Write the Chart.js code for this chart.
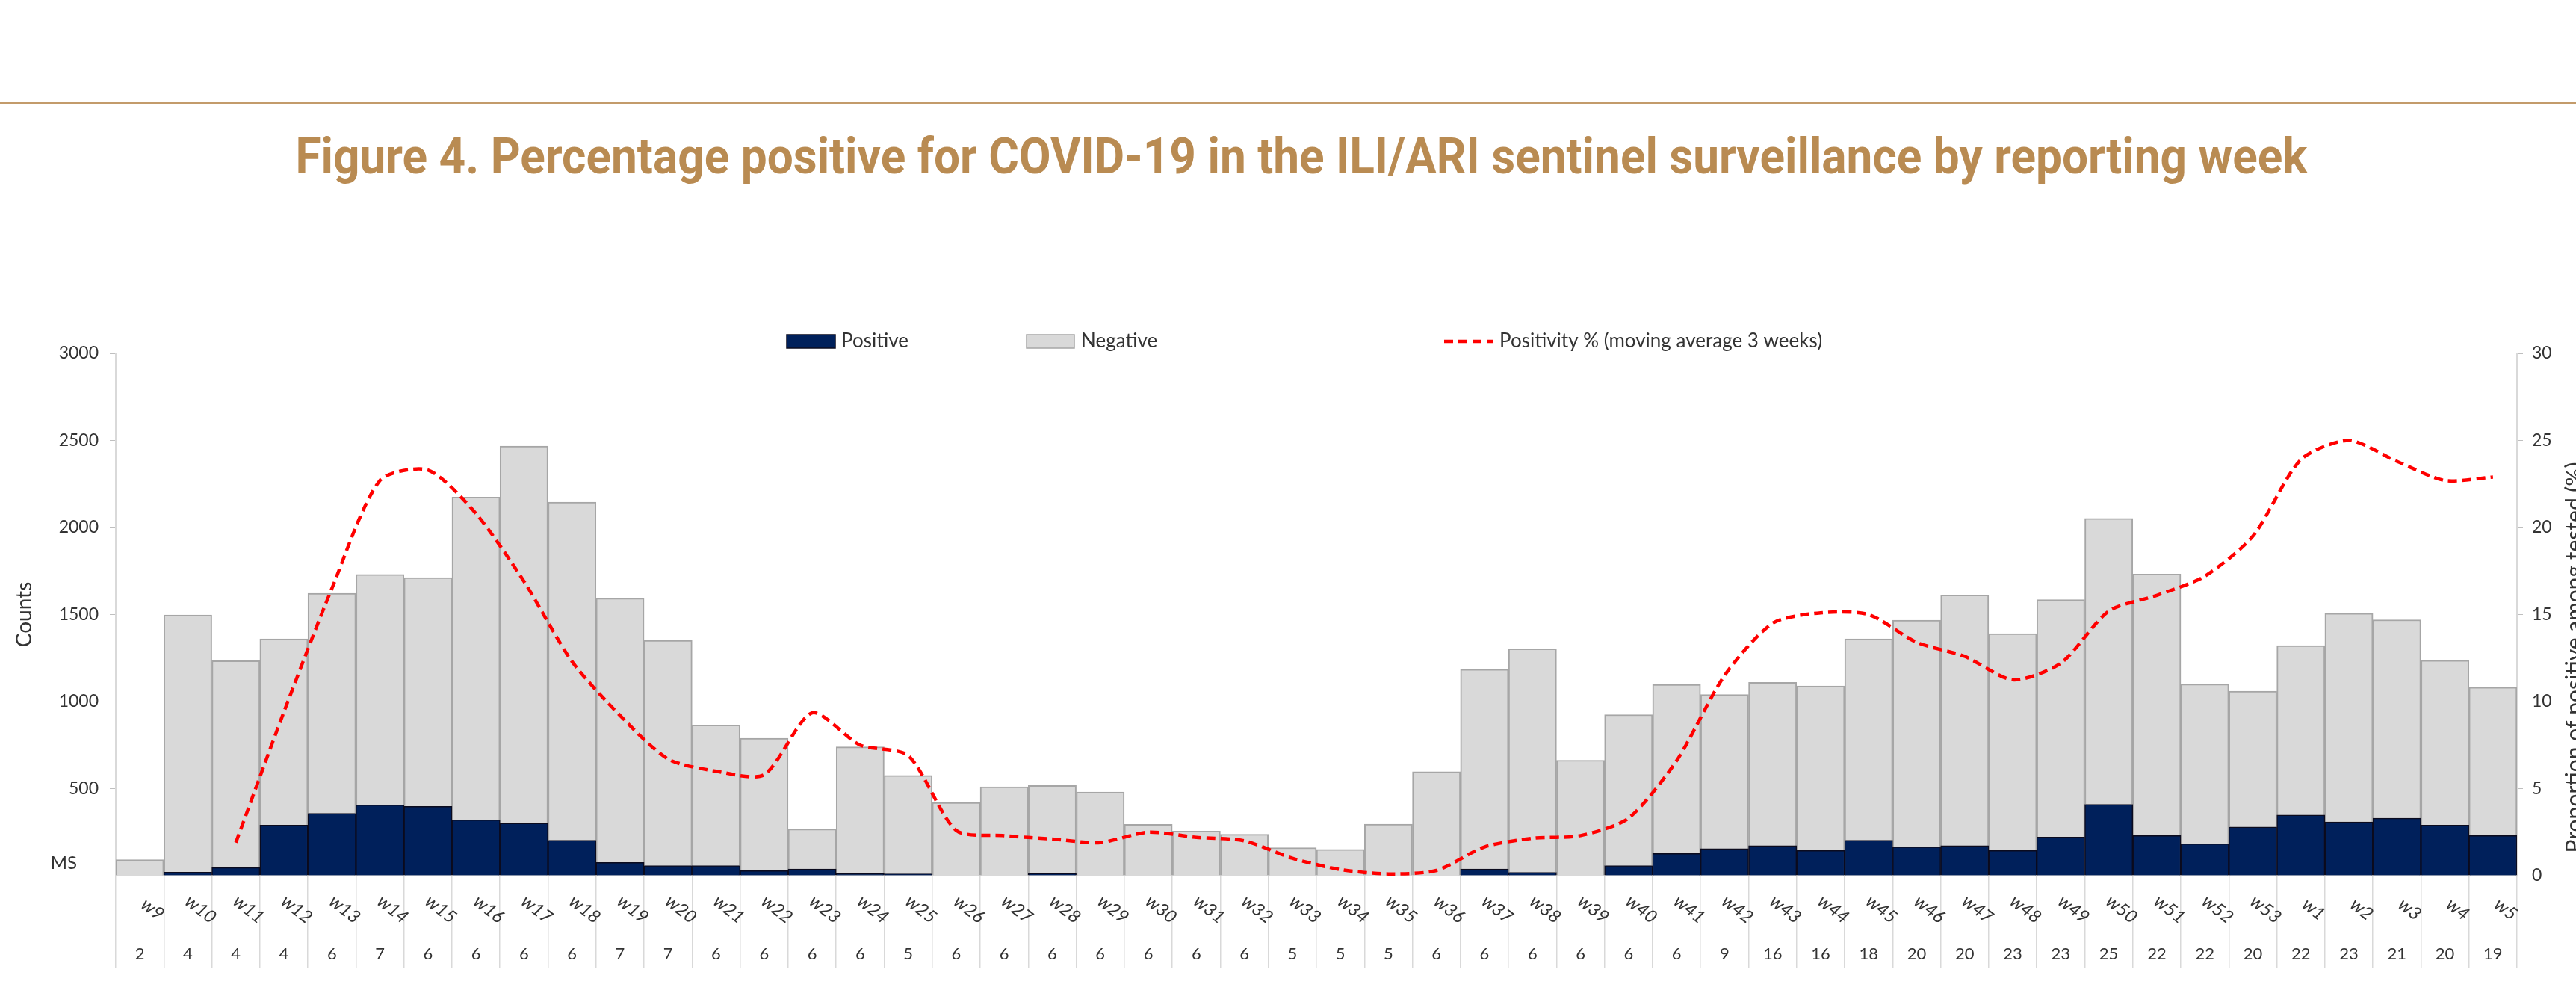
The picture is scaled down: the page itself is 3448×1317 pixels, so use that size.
<!DOCTYPE html>
<html>
<head>
<meta charset="utf-8">
<script src="https://cdn.jsdelivr.net/npm/chart.js@4.4.0/dist/chart.umd.min.js"></script>
<style>
  html, body { margin: 0; padding: 0; background: #fff; overflow: hidden; }
  #page { position: relative; width: 3448px; height: 1317px; }
  #rule { position: absolute; left: 0; top: 136px; width: 3448px; height: 3px; background: #c39b6b; }
  #title { position: absolute; left: 18px; top: 177px; width: 3448px; text-align: center;
           font: bold 66px Roboto, sans-serif; line-height: 66px; color: #b98b52;
           white-space: nowrap; transform-origin: 50% 50%; }
  #wrap { position: absolute; left: 0; top: 0; width: 3448px; height: 1317px; }
</style>
</head>
<body>
<div id="page">
  <div id="rule"></div>
  <div id="title"><span>Figure 4. Percentage positive for COVID-19 in the ILI/ARI sentinel surveillance by reporting week</span></div>
  <div id="wrap"><canvas id="chart"></canvas></div>
</div>
<script>
// squeeze the title to the condensed width of the original
const titleEl = document.getElementById('title');
const titleW = titleEl.querySelector('span').getBoundingClientRect().width;
titleEl.style.transform = 'scaleX(' + (2693 / titleW) + ')';

// --- data ---
const weeks = ['w9', 'w10', 'w11', 'w12', 'w13', 'w14', 'w15', 'w16', 'w17', 'w18',
  'w19', 'w20', 'w21', 'w22', 'w23', 'w24', 'w25', 'w26', 'w27', 'w28',
  'w29', 'w30', 'w31', 'w32', 'w33', 'w34', 'w35', 'w36', 'w37', 'w38',
  'w39', 'w40', 'w41', 'w42', 'w43', 'w44', 'w45', 'w46', 'w47', 'w48',
  'w49', 'w50', 'w51', 'w52', 'w53', 'w1', 'w2', 'w3', 'w4', 'w5'];

const positive = [0, 20, 47, 290, 358, 406, 398, 320, 301, 204,
  76, 58, 58, 29, 38, 11, 10, 0, 0, 12,
  0, 0, 0, 0, 0, 0, 0, 0, 38, 19,
  0, 58, 127, 155, 172, 144, 204, 165, 172, 144,
  222, 410, 230, 183, 280, 348, 309, 330, 290, 230];

const negative = [92, 1477, 1188, 1070, 1264, 1324, 1314, 1855, 2167, 1942,
  1518, 1294, 808, 760, 230, 729, 566, 420, 510, 506,
  480, 295, 256, 238, 161, 151, 296, 597, 1147, 1284,
  663, 867, 971, 885, 938, 946, 1156, 1303, 1440, 1246,
  1363, 1642, 1502, 917, 780, 974, 1198, 1140, 947, 852];

const positivity = [null, null, 1.9, 9.4, 16.5, 22.7, 23.3, 20.8, 16.9, 12.3,
  9.2, 6.7, 6.0, 5.8, 9.35, 7.5, 6.9, 2.6, 2.3, 2.1,
  1.9, 2.5, 2.2, 2.0, 1.0, 0.35, 0.1, 0.3, 1.65, 2.15,
  2.3, 3.3, 6.6, 11.5, 14.5, 15.1, 15.0, 13.4, 12.6, 11.25,
  12.2, 15.2, 16.1, 17.2, 19.5, 23.9, 25.0, 23.8, 22.7, 22.9];

// number of member states reporting each week
const msCounts = [2, 4, 4, 4, 6, 7, 6, 6, 6, 6,
  7, 7, 6, 6, 6, 6, 5, 6, 6, 6,
  6, 6, 6, 6, 5, 5, 5, 6, 6, 6,
  6, 6, 6, 9, 16, 16, 18, 20, 20, 23,
  23, 25, 22, 22, 20, 22, 23, 21, 20, 19];

const NAVY = '#00205b';
const GREY = '#d9d9d9';
const GREY_EDGE = '#a6a6a6';
const RED = '#ff0000';
const TEXT = '#333333';
const FONT = 'Lato, "Open Sans", sans-serif';

// week labels, MS row, legend and right-hand title
const extras = {
  id: 'extras',
  afterDraw(chart) {
    const { ctx, chartArea, scales: { x } } = chart;
    ctx.save();
    ctx.fillStyle = TEXT;
    ctx.textBaseline = 'middle';

    // slanted week labels
    ctx.font = 'italic 24px ' + FONT;
    ctx.textAlign = 'center';
    weeks.forEach((w, i) => {
      ctx.save();
      ctx.translate(x.getPixelForValue(i) + 17, chartArea.bottom + 45);
      ctx.rotate(38 * Math.PI / 180);
      ctx.fillText(w, 0, 0);
      ctx.restore();
    });

    // MS counts row
    ctx.font = '22px ' + FONT;
    msCounts.forEach((n, i) => {
      ctx.fillText(String(n), x.getPixelForValue(i), chartArea.bottom + 105);
    });
    ctx.font = '24px ' + FONT;
    ctx.textAlign = 'right';
    ctx.fillText('MS', chartArea.left - 52, chartArea.bottom - 17);

    // legend
    const ly = 457;
    ctx.font = '26px ' + FONT;
    ctx.textAlign = 'left';
    ctx.fillStyle = NAVY;
    ctx.fillRect(1053, ly - 9, 65, 18);
    ctx.strokeStyle = '#0b0b1e';
    ctx.lineWidth = 1.5;
    ctx.strokeRect(1053, ly - 9, 65, 18);
    ctx.fillStyle = TEXT;
    ctx.fillText('Positive', 1126, ly);

    ctx.fillStyle = GREY;
    ctx.fillRect(1374, ly - 9, 64, 18);
    ctx.strokeStyle = GREY_EDGE;
    ctx.strokeRect(1374, ly - 9, 64, 18);
    ctx.fillStyle = TEXT;
    ctx.fillText('Negative', 1447, ly);

    ctx.strokeStyle = RED;
    ctx.lineWidth = 4.5;
    ctx.setLineDash([12, 7]);
    ctx.beginPath();
    ctx.moveTo(1933, ly);
    ctx.lineTo(1999, ly);
    ctx.stroke();
    ctx.setLineDash([]);
    ctx.fillText('Positivity % (moving average 3 weeks)', 2007, ly);

    // right axis title, reading upwards and cut by the page edge
    ctx.save();
    ctx.translate(3456, 880);
    ctx.rotate(-Math.PI / 2);
    ctx.font = '30px ' + FONT;
    ctx.textAlign = 'center';
    ctx.textBaseline = 'alphabetic';
    ctx.fillText('Proportion of positive among tested (%)', 0, 0);
    ctx.restore();

    ctx.restore();
  }
};

new Chart(document.getElementById('chart'), {
  data: {
    labels: weeks,
    datasets: [
      {
        type: 'line',
        label: 'Positivity % (moving average 3 weeks)',
        data: positivity,
        yAxisID: 'y1',
        borderColor: RED,
        borderWidth: 4.5,
        borderDash: [12, 7],
        pointRadius: 0,
        tension: 0.25,
        order: 0
      },
      {
        type: 'bar',
        label: 'Positive',
        data: positive,
        yAxisID: 'y',
        backgroundColor: NAVY,
        borderColor: '#0b0b1e',
        borderWidth: 1.5,
        barPercentage: 1,
        categoryPercentage: 1,
        order: 1
      },
      {
        type: 'bar',
        label: 'Negative',
        data: negative,
        yAxisID: 'y',
        backgroundColor: GREY,
        borderColor: GREY_EDGE,
        borderWidth: 2,
        barPercentage: 1,
        categoryPercentage: 1,
        order: 2
      }
    ]
  },
  options: {
    responsive: true,
    maintainAspectRatio: false,
    animation: false,
    layout: { padding: { top: 473, bottom: 22, left: 0, right: 0 } },
    plugins: {
      legend: { display: false },
      tooltip: { enabled: false }
    },
    scales: {
      x: {
        stacked: true,
        afterFit: (s) => { s.height = 123; },
        ticks: { display: false },
        grid: {
          offset: true,
          drawOnChartArea: false,
          drawTicks: true,
          tickLength: 123,
          color: GREY,
          lineWidth: 1.5
        },
        border: { display: true, color: GREY, width: 2 }
      },
      y: {
        stacked: true,
        position: 'left',
        min: 0,
        max: 3000,
        afterFit: (s) => { s.width = 155; },
        ticks: {
          stepSize: 500,
          padding: 15,
          color: TEXT,
          font: { family: FONT, size: 23 },
          callback: (v) => (v === 0 ? '' : v)
        },
        grid: { drawOnChartArea: false, tickLength: 8, color: '#bfbfbf' },
        border: { display: true, color: GREY, width: 2 },
        title: {
          display: true,
          text: 'Counts',
          color: TEXT,
          font: { family: FONT, size: 28 },
          padding: { top: 16, bottom: 0 }
        }
      },
      y1: {
        position: 'right',
        min: 0,
        max: 30,
        afterFit: (s) => { s.width = 79; },
        ticks: {
          stepSize: 5,
          padding: 12,
          color: TEXT,
          font: { family: FONT, size: 23 }
        },
        grid: { drawOnChartArea: false, tickLength: 8, color: '#bfbfbf' },
        border: { display: true, color: GREY, width: 2 }
      }
    }
  },
  plugins: [extras]
});
</script>
</body>
</html>
